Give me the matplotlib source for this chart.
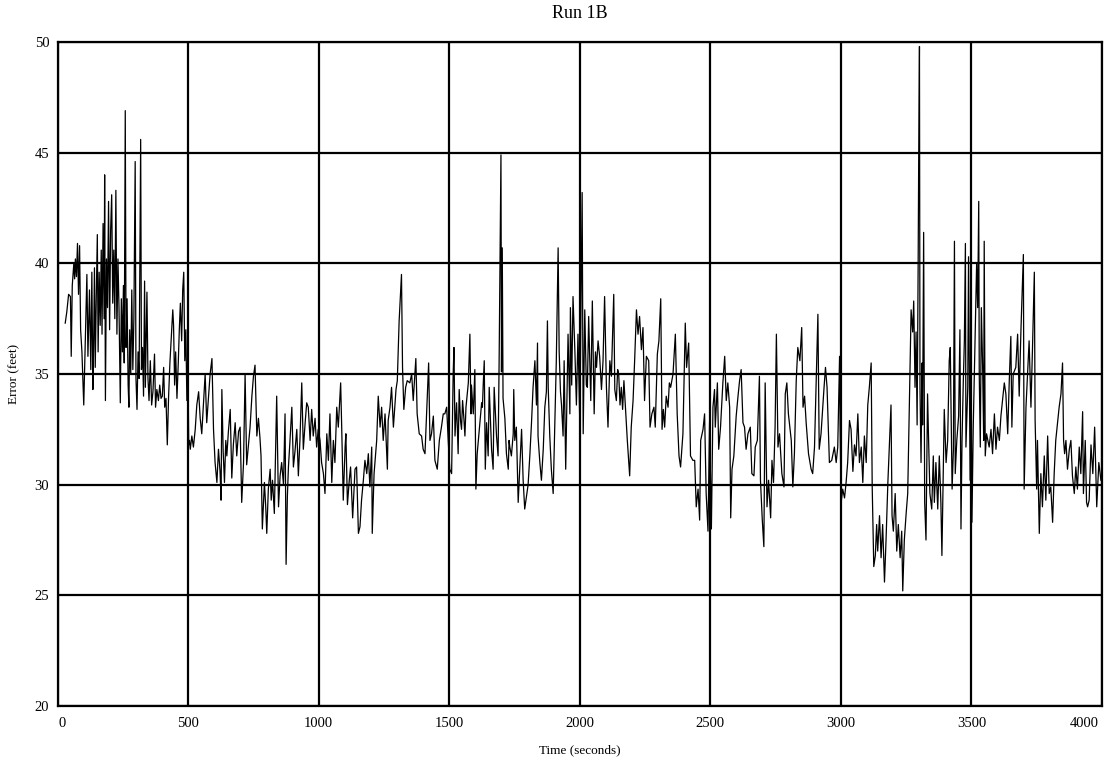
import matplotlib.pyplot as plt
from matplotlib.transforms import ScaledTranslation

# Run 1B position error (seconds, feet)
t_0k = [29, 35, 42, 49, 52, 56, 62, 65, 68, 72, 76, 80, 84, 88, 93, 100, 106, 112, 116, 122,
        127, 131, 135, 138, 141, 144, 148, 152, 155, 159, 163, 167, 170, 174, 178, 180, 183, 187, 191, 195,
        199, 203, 207, 211, 215, 219, 223, 227, 231, 235, 240, 244, 248, 252, 255, 259, 262, 266, 270, 273,
        276, 280, 284, 288, 292, 297, 300, 304, 308, 312, 318, 321, 325, 329, 333, 336, 339, 342, 346, 350,
        355, 360, 365, 371, 375, 380, 386, 391, 396, 401, 406, 410, 415, 420, 425, 430, 436, 441, 444, 448,
        452, 457, 462, 466, 470, 475, 479, 483, 487, 491, 495, 499,
        502, 505, 508, 514, 520, 527, 533, 540, 546, 552, 559, 565, 571, 578, 584, 591, 597, 603, 610, 616,
        622, 626, 629, 634, 639, 644, 648, 654, 661, 667, 673, 680, 686, 693, 699, 705, 712, 718, 724, 731,
        737, 744, 750, 756, 763, 769, 775, 779, 784, 792, 797, 801, 807, 814, 818, 823, 830, 839, 846, 852,
        858, 865, 871, 875, 880, 884, 890, 897, 903, 909, 916, 922, 928, 935, 941, 948, 954, 960, 967, 973,
        979, 986, 992, 998]
e_0k = [37.3, 37.8, 38.6, 38.5, 35.8, 39.0, 40.0, 39.3, 40.2, 39.4, 40.9, 38.6, 40.8, 37.0, 36.0, 33.6, 36.5, 39.5, 35.8, 38.8,
        35.2, 39.6, 34.3, 36.5, 39.8, 35.3, 38.5, 41.3, 36.0, 39.6, 37.2, 40.6, 36.8, 41.8, 37.5, 44.0, 33.8, 40.2, 38.0, 42.8,
        37.0, 41.5, 43.1, 38.2, 40.6, 37.5, 43.3, 36.8, 40.2, 38.0, 33.7, 38.4, 36.0, 39.0, 35.5, 46.9, 36.2, 38.4, 34.5, 33.5,
        37.0, 35.0, 38.8, 35.2, 37.5, 44.6, 34.8, 33.4, 36.0, 34.8, 45.6, 35.2, 36.2, 34.0, 39.2, 34.4, 36.6, 38.7, 34.8, 33.8,
        35.6, 33.6, 34.2, 35.9, 33.5, 34.3, 33.8, 34.5, 33.9, 34.0, 35.3, 33.5, 33.9, 31.8, 34.0, 35.5, 36.8, 37.9, 37.2, 34.5,
        36.0, 33.9, 35.5, 37.0, 38.2, 36.5, 38.8, 39.6, 35.6, 37.0, 33.8, 35.5,
        31.8, 32.0, 31.6, 32.2, 31.7, 32.5, 33.6, 34.2, 33.0, 32.3, 33.8, 35.0, 32.8, 34.0, 35.0, 35.7, 32.5, 31.0, 30.1, 31.6,
        30.6, 29.3, 34.3, 31.5, 30.1, 32.0, 31.3, 32.4, 33.4, 30.3, 31.8, 32.8, 31.3, 32.4, 32.6, 29.2, 31.0, 35.0, 30.9, 31.8,
        32.6, 34.0, 34.9, 35.4, 32.2, 33.0, 32.1, 31.3, 28.0, 30.1, 29.0, 27.8, 29.8, 30.7, 29.3, 30.2, 28.7, 34.0, 29.0, 30.4,
        31.0, 30.0, 33.2, 26.4, 29.5, 30.8, 32.0, 33.5, 30.8, 31.5, 32.5, 30.4, 32.0, 34.6, 31.6, 32.8, 33.7, 33.5, 32.0, 33.4,
        32.2, 33.0, 31.7, 32.5]

t_1k = [1005, 1011, 1018, 1024, 1031, 1037, 1043, 1050, 1056, 1062, 1069, 1075, 1084, 1088, 1094, 1101, 1104, 1110, 1117, 1122,
        1130, 1139, 1145, 1152, 1158, 1164, 1171, 1177, 1184, 1190, 1196, 1203, 1205, 1212, 1222, 1228, 1235, 1241, 1247, 1254,
        1263, 1266, 1273, 1279, 1286, 1296, 1301, 1308, 1317, 1321, 1326, 1333, 1339, 1349, 1356, 1362, 1372, 1377, 1385, 1394,
        1400, 1407, 1416, 1421, 1426, 1432, 1439, 1445, 1454, 1462, 1470, 1477, 1483, 1490, 1496,
        1502, 1509, 1515, 1518, 1522, 1528, 1534, 1538, 1543, 1547, 1551, 1556, 1560, 1564, 1573, 1579, 1583, 1585, 1592, 1598,
        1602, 1607, 1615, 1624, 1627, 1630, 1634, 1638, 1643, 1649, 1653, 1662, 1668, 1672, 1681, 1687, 1691, 1698, 1700, 1703,
        1706, 1713, 1719, 1726, 1729, 1732, 1738, 1745, 1747, 1751, 1757, 1764, 1770, 1777, 1783, 1789, 1796, 1802, 1809, 1815,
        1821, 1828, 1834, 1838, 1840, 1847, 1853, 1860, 1866, 1872, 1876, 1879, 1885, 1891, 1898, 1904, 1910, 1917, 1921, 1926,
        1930, 1936, 1940, 1946, 1955, 1962, 1964, 1969, 1974, 1981, 1987, 1993, 2000]
e_1k = [32.0, 31.0, 30.5, 29.6, 32.3, 31.1, 33.2, 30.1, 32.0, 31.0, 33.5, 32.6, 34.6, 32.6, 29.3, 31.7, 32.3, 29.1, 30.2, 30.8,
        28.5, 30.7, 30.8, 27.8, 28.1, 29.3, 30.2, 31.1, 30.5, 31.4, 29.9, 31.7, 27.8, 30.5, 32.0, 34.0, 32.6, 33.5, 32.0, 33.2,
        30.7, 32.9, 33.5, 34.4, 32.6, 34.3, 34.7, 37.4, 39.5, 35.3, 33.4, 34.4, 34.7, 34.6, 35.0, 33.8, 35.7, 33.2, 32.3, 32.2,
        31.6, 31.4, 34.1, 35.5, 32.0, 32.3, 33.1, 31.1, 30.7, 32.0, 32.6, 33.2, 33.2, 33.5, 32.0,
        30.7, 30.5, 35.0, 36.2, 32.2, 33.7, 31.4, 34.3, 32.9, 32.5, 33.8, 33.0, 32.2, 33.5, 34.6, 36.8, 33.2, 34.5, 33.2, 35.2,
        29.8, 31.4, 32.5, 33.7, 33.5, 34.5, 35.6, 30.7, 32.8, 31.3, 34.4, 31.6, 30.7, 34.4, 32.2, 31.3, 35.6, 44.9, 35.1, 40.7,
        33.9, 33.0, 31.4, 30.7, 32.0, 31.7, 31.3, 32.3, 34.3, 32.0, 32.6, 29.2, 30.7, 32.5, 30.2, 28.9, 29.5, 30.0, 31.4, 32.8,
        34.4, 35.6, 33.6, 36.4, 32.2, 31.0, 30.2, 31.6, 33.5, 34.2, 37.4, 34.4, 32.2, 30.7, 29.6, 32.5, 35.6, 40.7, 36.0, 34.2,
        33.6, 32.2, 35.6, 30.7, 36.8, 33.2, 38.0, 34.5, 38.5, 36.1, 33.6, 36.8, 32.8]

t_2k = [2009, 2013, 2019, 2025, 2029, 2034, 2042, 2048, 2055, 2060, 2064, 2070, 2076, 2083, 2089, 2095, 2102, 2108, 2115, 2121,
        2130, 2134, 2140, 2145, 2149, 2154, 2159, 2164, 2169, 2176, 2182, 2191, 2197, 2204, 2210, 2217, 2223, 2229, 2236, 2242,
        2248, 2255, 2264, 2269, 2276, 2284, 2289, 2297, 2303, 2310, 2315, 2320, 2325, 2331, 2338, 2343, 2348, 2357, 2366, 2373,
        2380, 2386, 2395, 2404, 2409, 2417, 2424, 2433, 2440, 2446, 2453, 2459, 2463, 2472, 2478, 2484, 2491, 2497,
        2504, 2510, 2516, 2519, 2527, 2532, 2539, 2548, 2555, 2561, 2567, 2574, 2578, 2583, 2590, 2599, 2606, 2612, 2618, 2625,
        2631, 2637, 2644, 2653, 2659, 2667, 2672, 2680, 2688, 2692, 2699, 2705, 2710, 2717, 2723, 2731, 2736, 2742, 2748, 2753,
        2759, 2765, 2774, 2782, 2787, 2793, 2799, 2810, 2816, 2822, 2829, 2835, 2843, 2850, 2855, 2861, 2867, 2876, 2886, 2892,
        2899, 2906, 2912, 2917, 2924, 2935, 2941, 2947, 2956, 2965, 2975, 2982, 2988, 2995, 2997]
e_2k = [43.2, 32.3, 37.9, 34.5, 34.4, 37.6, 33.8, 38.3, 33.2, 36.0, 35.3, 36.5, 35.8, 34.3, 35.6, 38.5, 34.4, 32.6, 35.6, 34.9,
        38.6, 34.3, 33.8, 35.2, 35.0, 33.6, 34.4, 33.4, 34.7, 33.2, 32.0, 30.4, 32.6, 33.8, 35.6, 37.9, 36.8, 37.6, 36.1, 37.1,
        33.8, 35.8, 35.6, 32.6, 33.2, 33.5, 32.6, 35.9, 36.5, 38.4, 32.5, 33.4, 32.6, 34.0, 33.5, 34.6, 34.4, 35.0, 36.8, 33.2,
        31.3, 30.8, 32.3, 37.3, 35.3, 36.4, 31.3, 31.1, 31.1, 29.0, 29.8, 28.4, 32.0, 32.5, 33.2, 29.6, 27.9, 32.8,
        28.0, 33.5, 34.3, 32.6, 34.6, 31.6, 32.6, 34.6, 35.8, 33.8, 34.6, 33.5, 28.5, 30.7, 31.3, 33.1, 34.0, 34.7, 35.2, 32.8,
        32.6, 31.6, 32.3, 32.6, 30.5, 30.4, 31.7, 32.0, 34.9, 30.2, 28.4, 27.2, 34.6, 29.0, 30.2, 28.5, 31.1, 30.1, 32.6, 36.8,
        31.7, 32.3, 30.5, 29.9, 34.1, 34.6, 33.2, 32.0, 29.9, 31.4, 34.7, 36.2, 35.6, 37.1, 33.5, 34.0, 32.8, 31.4, 30.7, 30.5,
        31.7, 35.0, 37.7, 31.6, 32.3, 34.3, 35.3, 34.4, 31.0, 31.1, 31.7, 31.0, 31.7, 35.8, 32.7]

t_3k = [3001, 3007, 3014, 3020, 3026, 3033, 3039, 3046, 3052, 3058, 3065, 3071, 3078, 3084, 3090, 3097, 3103, 3109, 3116, 3120,
        3126, 3132, 3137, 3141, 3148, 3154, 3160, 3167, 3173, 3180, 3186, 3192, 3196, 3201, 3208, 3214, 3220, 3227, 3233, 3237,
        3243, 3250, 3256, 3262, 3269, 3275, 3279, 3284, 3288, 3292, 3296, 3298, 3301, 3303, 3307, 3311, 3313, 3317, 3321, 3326,
        3332, 3336, 3341, 3348, 3354, 3358, 3364, 3371, 3377, 3383, 3387, 3392, 3396, 3403, 3409, 3415, 3419, 3426, 3431, 3435,
        3438, 3444, 3451, 3456, 3460, 3464, 3469, 3473, 3477, 3479, 3486, 3489, 3495, 3498,
        3502, 3507, 3515, 3520, 3524, 3528, 3530, 3534, 3538, 3543, 3547, 3549, 3553, 3558, 3563, 3568, 3575, 3581, 3588, 3594,
        3600, 3607, 3613, 3619, 3626, 3632, 3639, 3645, 3651, 3655, 3660, 3670, 3677, 3683, 3690, 3699, 3702, 3709, 3715, 3721,
        3728, 3734, 3741, 3744, 3750, 3753, 3760, 3766, 3772, 3779, 3785, 3792, 3798, 3804, 3811, 3817, 3823, 3830, 3836, 3843,
        3849, 3853, 3857, 3862, 3868, 3875, 3881, 3887, 3894, 3900, 3906, 3913, 3919, 3926, 3929, 3936, 3941, 3945, 3951, 3958,
        3965, 3972, 3980, 3988, 3996]
e_3k = [29.2, 29.8, 29.4, 30.1, 31.0, 32.9, 32.5, 30.6, 31.8, 31.3, 33.2, 31.0, 31.7, 30.1, 32.2, 31.0, 33.6, 34.4, 35.5, 29.9,
        26.3, 26.8, 28.2, 27.0, 28.6, 26.7, 28.2, 25.6, 27.5, 30.1, 31.8, 33.6, 28.6, 27.9, 29.6, 27.0, 28.2, 26.7, 27.9, 25.2,
        27.5, 28.7, 29.6, 33.4, 37.9, 36.9, 38.3, 34.4, 36.9, 32.7, 40.0, 44.6, 49.8, 34.4, 31.0, 35.5, 32.7, 41.4, 29.2, 27.5,
        34.1, 32.0, 29.6, 28.9, 31.3, 29.2, 31.0, 28.9, 31.3, 29.2, 26.8, 30.4, 33.4, 31.0, 32.0, 35.6, 36.2, 29.8, 31.6, 41.0,
        30.5, 32.0, 33.1, 37.0, 28.0, 32.0, 34.7, 36.5, 40.9, 31.7, 34.4, 40.3, 30.2, 37.6,
        28.3, 32.6, 37.1, 40.0, 38.0, 42.8, 35.0, 31.7, 38.0, 35.3, 32.0, 41.0, 31.3, 32.3, 32.0, 31.7, 32.5, 31.4, 33.2, 31.6,
        32.6, 32.0, 33.1, 33.8, 34.6, 34.1, 32.3, 34.7, 36.7, 32.6, 35.0, 35.3, 36.8, 34.0, 37.1, 40.4, 29.8, 33.5, 35.0, 36.5,
        33.5, 36.2, 39.6, 32.9, 29.8, 32.0, 27.8, 30.5, 29.0, 31.3, 29.3, 32.2, 29.6, 29.9, 28.3, 30.5, 32.0, 32.8, 33.5, 34.1,
        35.5, 32.0, 31.4, 32.0, 30.7, 31.6, 32.0, 30.4, 29.6, 30.8, 29.8, 31.7, 30.5, 33.3, 29.6, 32.0, 29.2, 29.0, 29.3, 31.8,
        30.5, 32.6, 29.0, 31.0, 30.2]

x_ticks = [0, 500, 1000, 1500, 2000, 2500, 3000, 3500, 4000]
y_ticks = [20, 25, 30, 35, 40, 45, 50]

plt.rcParams['font.family'] = ['Liberation Serif', 'DejaVu Serif']

fig = plt.figure(figsize=(11.15, 7.63), dpi=100)
ax = fig.add_axes([0.0517, 0.0747, 0.9366, 0.8702])

time_s = t_0k + t_1k + t_2k + t_3k
error_ft = e_0k + e_1k + e_2k + e_3k
ax.plot(time_s, error_ft, color='black', lw=0.9)

ax.set_xlim(0, 4000)
ax.set_ylim(20, 50)
ax.set_xticks(x_ticks)
ax.set_yticks(y_ticks)
ax.grid(True, color='black', lw=1.6)
for sp in ax.spines.values():
    sp.set_linewidth(1.6)
ax.tick_params(length=0, labelsize=10.5)
ax.tick_params(axis='x', pad=8)
ax.tick_params(axis='y', pad=6)

# end labels sit a little inside the frame, like the original
xlabels = ax.get_xticklabels()
xlabels[0].set_transform(xlabels[0].get_transform() + ScaledTranslation(4 / 100, 0, fig.dpi_scale_trans))
xlabels[-1].set_transform(xlabels[-1].get_transform() + ScaledTranslation(-18 / 100, 0, fig.dpi_scale_trans))

ax.set_title('Run 1B', fontsize=13, pad=17)
ax.set_xlabel('Time (seconds)', fontsize=9.5, labelpad=10)
ax.set_ylabel('Error (feet)', fontsize=9.5, labelpad=10)

fig.savefig('out.png', dpi=100)
